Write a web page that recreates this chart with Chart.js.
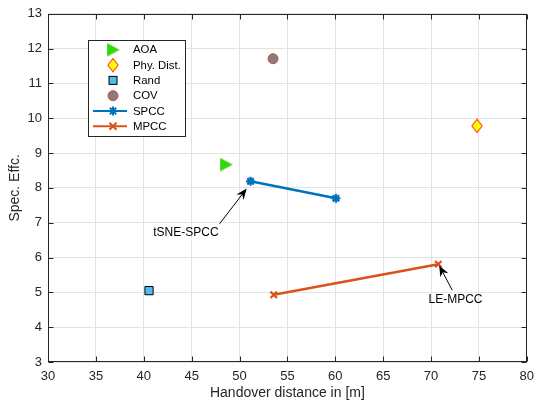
<!DOCTYPE html>
<html><head><meta charset="utf-8">
<style>html,body{margin:0;padding:0;background:#fff;}canvas{display:block;}</style>
</head><body>
<canvas id="c" width="535" height="402"></canvas>
<script src="https://cdn.jsdelivr.net/npm/chart.js@4.4.1/dist/chart.umd.min.js"></script>
<script>
// ---- data ----
const xTicks = [30, 35, 40, 45, 50, 55, 60, 65, 70, 75, 80];
const yTicks = [3, 4, 5, 6, 7, 8, 9, 10, 11, 12, 13];
const seriesNames = ['AOA', 'Phy. Dist.', 'Rand', 'COV', 'SPCC', 'MPCC'];
const aoaX = [48.6],  aoaY = [8.67];
const phyX = [74.8],  phyY = [9.78];
const randX = [40.55], randY = [5.05];
const covX = [53.5],  covY = [11.71];
const spccX = [51.15, 60.07], spccY = [8.19, 7.70];
const mpccX = [53.57, 70.76], mpccY = [4.93, 5.81];
const annotLabels = ['tSNE-SPCC', 'LE-MPCC'];
const xTitle = 'Handover distance in [m]';
const yTitle = 'Spec. Effc.';

const FONT = "'Liberation Sans', Arial, Helvetica, sans-serif";
const TXT = '#262626';
const BLUE = '#0072BD', ORANGE = '#D95319';

function pts(xs, ys) { return xs.map((x, i) => ({x: x, y: ys[i]})); }

// custom marker images
function triImg() {
  const c = document.createElement('canvas'); c.width = 13; c.height = 14;
  const g = c.getContext('2d');
  g.beginPath(); g.moveTo(0.7, 0.7); g.lineTo(12.3, 7); g.lineTo(0.7, 13.3); g.closePath();
  g.fillStyle = '#22e000'; g.fill(); g.strokeStyle = '#5cb82c'; g.lineWidth = 0.8; g.stroke();
  return c;
}
function diaImg() {
  const c = document.createElement('canvas'); c.width = 12; c.height = 15;
  const g = c.getContext('2d');
  g.beginPath(); g.moveTo(6, 0.8); g.lineTo(11.2, 7.5); g.lineTo(6, 14.2); g.lineTo(0.8, 7.5); g.closePath();
  g.fillStyle = '#ffff00'; g.fill(); g.strokeStyle = '#ff0000'; g.lineWidth = 1; g.stroke();
  return c;
}
const TRI = triImg(), DIA = diaImg();

function drawStar(ctx, x, y, r, color) {
  ctx.save(); ctx.strokeStyle = color; ctx.lineWidth = 2; ctx.beginPath();
  for (let k = 0; k < 4; k++) {
    const a = k * Math.PI / 4;
    ctx.moveTo(x - Math.cos(a) * r, y - Math.sin(a) * r);
    ctx.lineTo(x + Math.cos(a) * r, y + Math.sin(a) * r);
  }
  ctx.stroke(); ctx.restore();
}
function drawX(ctx, x, y, r, color) {
  ctx.save(); ctx.strokeStyle = color; ctx.lineWidth = 2; ctx.beginPath();
  ctx.moveTo(x - r, y - r); ctx.lineTo(x + r, y + r);
  ctx.moveTo(x - r, y + r); ctx.lineTo(x + r, y - r);
  ctx.stroke(); ctx.restore();
}

function arrow(ctx, x1, y1, x2, y2) {
  // from tail (x1,y1) to head (x2,y2), MATLAB-like vback arrowhead
  const ang = Math.atan2(y2 - y1, x2 - x1);
  const L = 11, W = 4.5, back = 7.5;
  ctx.save();
  ctx.strokeStyle = '#000'; ctx.fillStyle = '#000'; ctx.lineWidth = 1;
  ctx.beginPath(); ctx.moveTo(x1, y1);
  ctx.lineTo(x2 - Math.cos(ang) * back, y2 - Math.sin(ang) * back); ctx.stroke();
  ctx.translate(x2, y2); ctx.rotate(ang);
  ctx.beginPath(); ctx.moveTo(0, 0); ctx.lineTo(-L, -W); ctx.lineTo(-back, 0); ctx.lineTo(-L, W); ctx.closePath();
  ctx.fill();
  ctx.restore();
}

const overlay = {
  id: 'overlay',
  afterDatasetsDraw(chart) {
    const ctx = chart.ctx, a = chart.chartArea;
    const xs = chart.scales.x, ys = chart.scales.y;
    // frame + inward ticks
    ctx.save();
    ctx.strokeStyle = TXT; ctx.lineWidth = 1;
    const L = Math.round(a.left) + 0.5, R = Math.round(a.right) - 0.5;
    const T = Math.round(a.top) + 0.5, B = Math.round(a.bottom) - 0.5;
    ctx.strokeRect(L, T, R - L, B - T);
    ctx.beginPath();
    xTicks.forEach(v => {
      const px = Math.round(xs.getPixelForValue(v)) + 0.5;
      ctx.moveTo(px, B); ctx.lineTo(px, B - 5);
      ctx.moveTo(px, T); ctx.lineTo(px, T + 5);
    });
    yTicks.forEach(v => {
      const py = Math.round(ys.getPixelForValue(v)) + 0.5;
      ctx.moveTo(L, py); ctx.lineTo(L + 5, py);
      ctx.moveTo(R, py); ctx.lineTo(R - 5, py);
    });
    ctx.stroke();
    ctx.restore();

    // annotations (text arrows), positions in data units
    const ann = [
      {label: annotLabels[0], tail: [47.92, 6.97], head: [50.75, 7.98], text: [44.4, 6.70]},
      {label: annotLabels[1], tail: [72.22, 5.06], head: [70.85, 5.77], text: [72.55, 4.78]}
    ];
    ctx.save();
    ctx.font = '12px ' + FONT; ctx.fillStyle = '#000';
    ctx.textAlign = 'center'; ctx.textBaseline = 'middle';
    ann.forEach(n => {
      arrow(ctx, xs.getPixelForValue(n.tail[0]), ys.getPixelForValue(n.tail[1]),
                 xs.getPixelForValue(n.head[0]), ys.getPixelForValue(n.head[1]));
      ctx.fillText(n.label, xs.getPixelForValue(n.text[0]), ys.getPixelForValue(n.text[1]));
    });
    ctx.restore();

    // legend box
    ctx.save();
    const bx = 88.5, by = 40.5, bw = 97, bh = 96;
    ctx.fillStyle = '#fff'; ctx.fillRect(bx, by, bw, bh);
    ctx.strokeStyle = TXT; ctx.lineWidth = 1; ctx.strokeRect(bx, by, bw, bh);
    ctx.font = '11.4px ' + FONT; ctx.fillStyle = '#000';
    ctx.textAlign = 'left'; ctx.textBaseline = 'middle';
    const mx = 113, tx = 133;
    seriesNames.forEach((name, i) => {
      const yy = 49.8 + i * 15.3;
      if (i === 0) ctx.drawImage(TRI, mx - 6.5, yy - 7);
      else if (i === 1) ctx.drawImage(DIA, mx - 6, yy - 7.5);
      else if (i === 2) {
        ctx.fillStyle = '#4DBEEE'; ctx.fillRect(mx - 4, yy - 4, 8, 8);
        ctx.strokeStyle = '#000'; ctx.strokeRect(mx - 4, yy - 4, 8, 8);
      } else if (i === 3) {
        ctx.beginPath(); ctx.arc(mx, yy, 5, 0, Math.PI * 2);
        ctx.fillStyle = '#808080'; ctx.fill(); ctx.strokeStyle = '#e8403a'; ctx.stroke();
      } else {
        const col = i === 4 ? BLUE : ORANGE;
        ctx.save(); ctx.strokeStyle = col; ctx.lineWidth = 2;
        ctx.beginPath(); ctx.moveTo(93, yy); ctx.lineTo(127, yy); ctx.stroke(); ctx.restore();
        if (i === 4) drawStar(ctx, mx, yy, 4.5, col); else drawX(ctx, mx, yy, 3.5, col);
      }
      ctx.fillStyle = '#000';
      ctx.fillText(name, tx, yy + 0.5);
    });
    ctx.restore();
  }
};

new Chart(document.getElementById('c'), {
  type: 'scatter',
  data: {
    datasets: [
      {label: seriesNames[0], data: pts(aoaX, aoaY), pointStyle: TRI, pointRadius: 6, showLine: false},
      {label: seriesNames[1], data: pts(phyX, phyY), pointStyle: DIA, pointRadius: 6, showLine: false},
      {label: seriesNames[2], data: pts(randX, randY), pointStyle: 'rect', pointRadius: 5.8,
        backgroundColor: '#4DBEEE', borderColor: '#000', pointBorderWidth: 1, showLine: false},
      {label: seriesNames[3], data: pts(covX, covY), pointStyle: 'circle', pointRadius: 5,
        backgroundColor: '#808080', borderColor: '#e8403a', pointBorderWidth: 1, showLine: false},
      {label: seriesNames[4], data: pts(spccX, spccY), pointStyle: 'star', pointRadius: 4.5,
        borderColor: BLUE, backgroundColor: BLUE, pointBorderWidth: 2.2, borderWidth: 2.5, showLine: true},
      {label: seriesNames[5], data: pts(mpccX, mpccY), pointStyle: 'crossRot', pointRadius: 4.5,
        borderColor: ORANGE, backgroundColor: ORANGE, pointBorderWidth: 2.2, borderWidth: 2.5, showLine: true}
    ]
  },
  options: {
    responsive: false,
    devicePixelRatio: 1,
    animation: false,
    layout: {padding: {top: 13, right: 0, left: 0, bottom: 0}},
    plugins: {legend: {display: false}, tooltip: {enabled: false}},
    elements: {point: {hoverRadius: 6}},
    scales: {
      x: {
        type: 'linear', min: 30, max: 80,
        afterFit(s) { s.height = 40; s.paddingRight = 7; },
        afterBuildTicks(s) { s.ticks = xTicks.map(v => ({value: v})); },
        ticks: {color: TXT, font: {family: FONT, size: 13}, padding: 7, maxRotation: 0},
        grid: {color: '#e3e3e3', lineWidth: 1, drawTicks: false},
        border: {display: false},
        title: {display: true, text: xTitle, color: TXT, font: {family: FONT, size: 14}, padding: {top: 0, bottom: 0}}
      },
      y: {
        type: 'linear', min: 3, max: 13,
        afterFit(s) { s.width = 48; },
        afterBuildTicks(s) { s.ticks = yTicks.map(v => ({value: v})); },
        ticks: {color: TXT, font: {family: FONT, size: 13}, padding: 6},
        grid: {color: '#e3e3e3', lineWidth: 1, drawTicks: false},
        border: {display: false},
        title: {display: true, text: yTitle, color: TXT, font: {family: FONT, size: 14}, padding: {top: 7, bottom: 0}}
      }
    }
  },
  plugins: [overlay]
});
</script>
</body></html>
